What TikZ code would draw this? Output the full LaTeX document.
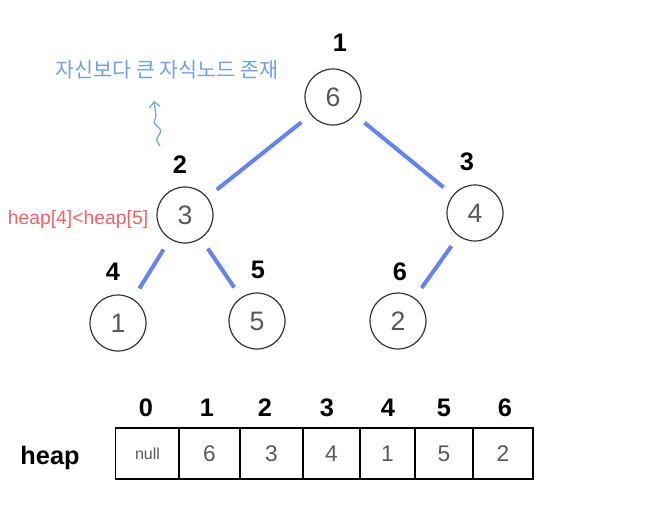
\documentclass[tikz,border=0pt]{standalone}
\usepackage{fontspec}
\setmainfont{Liberation Sans}
\newfontfamily\cjk{Noto Sans CJK KR}
\usetikzlibrary{arrows.meta,decorations.pathmorphing}
\definecolor{edgeblue}{RGB}{100,130,240}
\definecolor{noteblue}{RGB}{110,160,235}
\definecolor{notered}{RGB}{240,100,100}
\begin{document}
\begin{tikzpicture}[x=0.75pt,y=-0.75pt,
  tnode/.style={circle,draw=black!80,line width=0.9pt,minimum size=42pt,inner sep=0pt,font=\fontsize{20}{22}\selectfont,text=black!65},
  idx/.style={font=\fontsize{19}{21}\selectfont\bfseries,text=black},
  edge/.style={draw=edgeblue,line width=3pt,shorten <=9pt,shorten >=9pt},
  cell/.style={draw=black,line width=1.4pt,minimum height=38.5pt,inner sep=0pt,font=\fontsize{17}{19}\selectfont,text=black!65}]
\useasboundingbox (0,0) rectangle (647,511);
% tree nodes
\node[tnode] (n1) at (333,97) {6};
\node[tnode] (n2) at (185,215) {3};
\node[tnode] (n3) at (475,213) {4};
\node[tnode] (n4) at (118,323) {1};
\node[tnode] (n5) at (257,321) {5};
\node[tnode] (n6) at (398,321) {2};
% index labels
\node[idx] (i1) at (340,43) {1};
\node[idx] (i2) at (180,165) {2};
\node[idx] (i3) at (467,162) {3};
\node[idx] (i4) at (113,272) {4};
\node[idx] (i5) at (258,270) {5};
\node[idx] (i6) at (400,272) {6};
% edges
\draw[edge] (n1) -- (n2);
\draw[edge] (n1) -- (n3);
\draw[edge] (n2) -- (n4);
\draw[edge] (n2) -- (n5);
\draw[edge] (n3) -- (n6);
% annotations
\node[text=noteblue,font=\cjk\fontsize{15.5}{17}\selectfont] (note) at (167,70) {자신보다 큰 자식노드 존재};
\node[text=notered,font=\fontsize{14.5}{16}\selectfont] (cond) at (78,219) {heap[4]<heap[5]};
\coordinate (ab) at (160,146);
\coordinate (at) at (154,101);
\draw[draw=noteblue,line width=0.9pt,-{Straight Barb[length=4pt]},decorate,decoration={snake,amplitude=2pt,segment length=14pt,post length=5pt}] (ab) -- (at);
% array
\node[cell,minimum width=48pt] (c0) at (147.5,453.5) {\fontsize{12}{14}\selectfont null};
\node[cell,minimum width=45.75pt] (c1) at (209.5,453.5) {6};
\node[cell,minimum width=47.25pt] (c2) at (271.5,453.5) {3};
\node[cell,minimum width=42.75pt] (c3) at (331.5,453.5) {4};
\node[cell,minimum width=41.25pt] (c4) at (387.5,453.5) {1};
\node[cell,minimum width=43.5pt] (c5) at (444,453.5) {5};
\node[cell,minimum width=45pt] (c6) at (503,453.5) {2};
\node[idx] (a0) at (146,408) {0};
\node[idx] (a1) at (207,408) {1};
\node[idx] (a2) at (265,408) {2};
\node[idx] (a3) at (327,408) {3};
\node[idx] (a4) at (388,408) {4};
\node[idx] (a5) at (444,408) {5};
\node[idx] (a6) at (505,408) {6};
\node[font=\fontsize{19}{21}\selectfont\bfseries] (hp) at (50,458) {heap};
\end{tikzpicture}
\end{document}
